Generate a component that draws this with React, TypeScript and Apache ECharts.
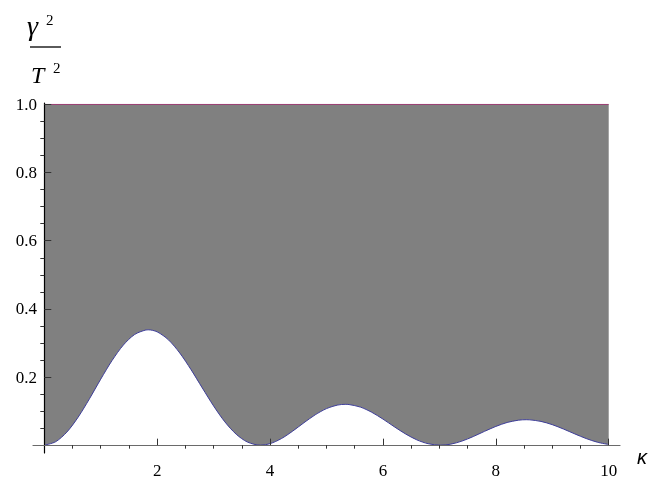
import React, { useEffect, useRef } from "react";
import * as echarts from "echarts";

// κ sample points and γ²/T² values
const kappa = [
  0, 0.2, 0.4, 0.6, 0.8, 1, 1.2, 1.4, 1.6, 1.8, 1.84, 2, 2.2, 2.4, 2.6, 2.8, 3, 3.2, 3.4, 3.6,
  3.83, 4, 4.2, 4.4, 4.6, 4.8, 5, 5.2, 5.33, 5.4, 5.6, 5.8, 6, 6.2, 6.4, 6.6, 6.8, 7.02, 7.2,
  7.4, 7.6, 7.8, 8, 8.2, 8.4, 8.54, 8.6, 8.8, 9, 9.2, 9.4, 9.6, 9.8, 10,
];
const ratio = [
  0, 0.0099, 0.0384, 0.0822, 0.136, 0.1937, 0.2483, 0.2937, 0.3248, 0.3381, 0.3386, 0.3326,
  0.3091, 0.2706, 0.2217, 0.1679, 0.115, 0.0683, 0.0321, 0.0091, 0.0, 0.0044, 0.0192, 0.0411,
  0.0658, 0.0891, 0.1073, 0.1178, 0.1198, 0.1192, 0.1118, 0.0967, 0.0766, 0.0542, 0.033,
  0.0156, 0.0043, 0.0, 0.0029, 0.012, 0.0253, 0.0406, 0.055, 0.0666, 0.0733, 0.0747, 0.0744,
  0.0697, 0.0602, 0.0473, 0.033, 0.0195, 0.0086, 0.0019,
];
const upperBound = 1;
const xRange = [0, 10];

const xMajorTicks = [2, 4, 6, 8, 10];
const xMinorTicks = [0.5, 1, 1.5, 2.5, 3, 3.5, 4.5, 5, 5.5, 6.5, 7, 7.5, 8.5, 9, 9.5];
const yMajorTicks = [0.2, 0.4, 0.6, 0.8, 1.0];
const yMinorTicks = [
  0.05, 0.1, 0.15, 0.25, 0.3, 0.35, 0.45, 0.5, 0.55, 0.65, 0.7, 0.75, 0.85, 0.9, 0.95,
];

const SERIF = "Liberation Serif";

export default function App() {
  const ref = useRef<HTMLDivElement>(null);
  useEffect(() => {
    if (!ref.current) return;
    const chart = echarts.init(ref.current, null, { renderer: "svg" });
    const xMin = -0.2;
    const xMax = 10.2;
    const yMin = -0.023;
    const yMax = 1.0043;
    const txt = (text: string, x: number, y: number, font: string) => ({
      type: "text",
      x,
      y,
      style: { text, font, fill: "#000" },
    });
    chart.setOption({
      animation: false,
      textStyle: { fontFamily: SERIF },
      grid: { left: 33, right: 47, top: 103, bottom: 18 },
      xAxis: [
        {
          type: "value",
          min: xMin,
          max: xMax,
          z: 10,
          splitLine: { show: false },
          axisLine: { show: true, onZero: true, onZeroAxisIndex: 0, lineStyle: { color: "#6a6a6a", width: 1.2 } },
          axisTick: { show: true, inside: true, length: 6.5, customValues: xMajorTicks, lineStyle: { color: "#333", width: 1 } },
          axisLabel: { show: true, customValues: xMajorTicks, margin: 9, color: "#000", fontSize: 17, fontFamily: SERIF },
        },
        {
          type: "value",
          min: xMin,
          max: xMax,
          z: 10,
          splitLine: { show: false },
          axisLine: { show: false, onZero: true, onZeroAxisIndex: 0 },
          axisTick: { show: true, inside: true, length: 3.5, customValues: xMinorTicks, lineStyle: { color: "#333", width: 1 } },
          axisLabel: { show: false },
        },
      ],
      yAxis: [
        {
          type: "value",
          min: yMin,
          max: yMax,
          z: 10,
          splitLine: { show: false },
          axisLine: { show: true, onZero: true, onZeroAxisIndex: 0, lineStyle: { color: "#000", width: 1.2 } },
          axisTick: { show: true, inside: true, length: 7, customValues: yMajorTicks, lineStyle: { color: "#333", width: 1 } },
          axisLabel: {
            show: true,
            customValues: yMajorTicks,
            margin: -4,
            formatter: (v: number) => v.toFixed(1),
            color: "#000",
            fontSize: 17,
            fontFamily: SERIF,
          },
        },
        {
          type: "value",
          min: yMin,
          max: yMax,
          z: 10,
          splitLine: { show: false },
          axisLine: { show: false, onZero: true, onZeroAxisIndex: 0 },
          axisTick: { show: true, inside: true, length: 4, customValues: yMinorTicks, lineStyle: { color: "#333", width: 1 } },
          axisLabel: { show: false },
        },
      ],
      series: [
        {
          type: "line",
          xAxisIndex: 0,
          yAxisIndex: 0,
          data: [
            [xRange[0], upperBound],
            [xRange[1], upperBound],
          ],
          symbol: "none",
          lineStyle: { color: "#993d71", width: 1 },
          areaStyle: { color: "#808080", opacity: 1, origin: 0 },
          z: 2,
        },
        {
          type: "line",
          xAxisIndex: 0,
          yAxisIndex: 0,
          data: kappa.map((k, i) => [k, ratio[i]]),
          smooth: 0.3,
          symbol: "none",
          lineStyle: { color: "#3d3d99", width: 1 },
          areaStyle: { color: "#ffffff", opacity: 1, origin: 0 },
          z: 3,
        },
      ],
      graphic: [
        txt("γ", 27, 11, "italic 28px 'Liberation Serif'"),
        txt("2", 46, 12, "15px 'Liberation Serif'"),
        {
          type: "line",
          shape: { x1: 30, y1: 47, x2: 61, y2: 47 },
          style: { stroke: "#000", lineWidth: 1.3 },
        },
        txt("T", 31, 63, "italic 24px 'Liberation Serif'"),
        txt("2", 53, 60, "15px 'Liberation Serif'"),
        txt("κ", 637, 447, "italic 20px 'Liberation Sans'"),
      ],
    });
    return () => chart.dispose();
  }, []);
  return <div ref={ref} style={{ position: "fixed", left: 0, top: 0, width: 667, height: 479 }} />;
}
